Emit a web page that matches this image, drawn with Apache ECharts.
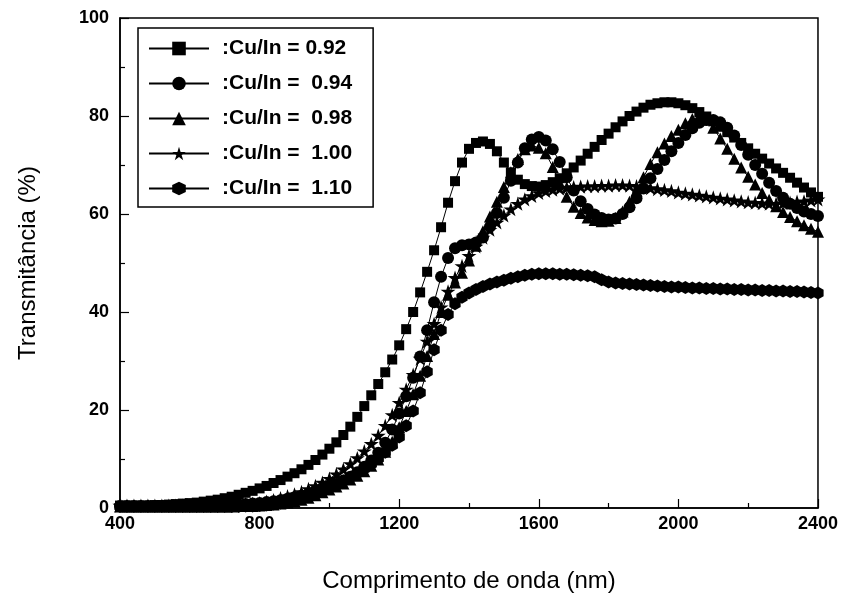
<!DOCTYPE html>
<html>
<head>
<meta charset="utf-8">
<script src="https://cdn.jsdelivr.net/npm/echarts@6/dist/echarts.min.js"></script>
<style>html,body{margin:0;padding:0;background:#fff;}#c{width:841px;height:601px;}</style>
</head>
<body>
<div id="c"></div>
<script>
var wavelengths = [400,420,440,460,480,500,520,540,560,580,600,620,640,660,680,700,720,740,760,780,800,820,840,860,880,900,920,940,960,980,1000,1020,1040,1060,1080,1100,1120,1140,1160,1180,1200,1220,1240,1260,1280,1300,1320,1340,1360,1380,1400,1420,1440,1460,1480,1500,1520,1540,1560,1580,1600,1620,1640,1660,1680,1700,1720,1740,1760,1780,1800,1820,1840,1860,1880,1900,1920,1940,1960,1980,2000,2020,2040,2060,2080,2100,2120,2140,2160,2180,2200,2220,2240,2260,2280,2300,2320,2340,2360,2380,2400];

var cu092 = [0.5,0.5,0.5,0.5,0.5,0.6,0.6,0.7,0.8,0.9,1.0,
 1.1,1.3,1.5,1.7,2.0,2.3,2.7,3.1,3.5,4.0,
 4.5,5.1,5.7,6.4,7.1,7.9,8.8,9.8,10.9,12.1,
 13.4,14.9,16.6,18.6,20.8,23.0,25.3,27.7,30.3,33.2,
 36.5,40.0,44.0,48.2,52.6,57.3,62.3,66.7,70.5,73.3,
 74.5,74.8,74.3,72.8,70.5,68.5,67.0,66.1,65.7,65.6,
 65.9,66.5,67.3,68.3,69.5,70.9,72.3,73.7,75.1,76.4,
 77.7,78.9,80.0,80.9,81.7,82.3,82.6,82.8,82.8,82.6,
 82.2,81.6,80.8,79.9,78.9,77.8,76.7,75.6,74.5,73.4,
 72.3,71.3,70.3,69.3,68.4,67.4,66.4,65.4,64.4,63.5];

var cu094 = [0.4,0.4,0.4,0.4,0.4,0.4,0.4,0.4,0.4,0.4,0.4,
 0.4,0.4,0.5,0.5,0.5,0.6,0.7,0.8,0.9,1.0,
 1.2,1.4,1.6,1.9,2.2,2.5,2.9,3.3,3.8,4.3,
 4.9,5.6,6.4,7.3,8.4,9.7,11.3,13.3,16.0,19.3,
 22.8,26.6,30.9,36.3,42.0,47.2,51.0,53.0,53.6,53.8,
 54.2,55.2,57.4,60.2,63.3,66.8,70.5,73.4,75.2,75.7,
 75.0,73.2,70.6,67.5,64.8,62.6,61.0,59.9,59.2,58.9,
 59.1,60.0,61.4,63.2,65.2,67.3,69.2,71.0,72.8,74.5,
 76.1,77.5,78.6,79.2,79.2,78.7,77.6,76.0,74.1,72.1,
 70.0,68.2,66.4,64.7,63.3,62.1,61.2,60.5,60.0,59.6];

var cu098 = [0.3,0.3,0.3,0.3,0.3,0.3,0.3,0.3,0.3,0.3,0.3,
 0.3,0.3,0.3,0.3,0.3,0.3,0.4,0.4,0.4,0.5,
 0.6,0.7,0.9,1.1,1.4,1.7,2.1,2.6,3.2,3.8,
 4.4,5.0,5.8,6.6,7.5,8.6,9.9,11.5,13.5,16.5,
 19.8,23.2,27.0,31.0,35.5,40.0,43.5,46.0,48.0,50.5,
 53.5,56.5,59.5,62.5,65.5,68.5,71.2,73.2,74.0,73.5,
 72.4,69.6,66.3,63.5,61.5,60.2,59.3,58.8,58.5,58.6,
 59.2,60.5,62.5,64.8,67.5,70.2,72.6,74.4,75.9,77.2,
 78.5,79.4,79.8,79.3,77.6,75.4,73.3,71.3,69.5,67.6,
 66.0,64.3,62.9,61.6,60.4,59.4,58.5,57.7,57.0,56.4];

var cu100 = [0.5,0.5,0.5,0.5,0.5,0.5,0.5,0.5,0.5,0.5,0.5,
 0.5,0.5,0.5,0.6,0.6,0.6,0.7,0.8,0.9,1.0,
 1.3,1.6,2.0,2.4,2.8,3.3,3.9,4.5,5.2,6.0,
 6.9,7.9,9.0,10.2,11.6,13.1,14.8,16.8,19.0,21.5,
 24.2,27.2,30.5,34.0,37.6,41.0,44.2,47.0,49.4,51.5,
 53.4,55.2,56.8,58.3,59.7,61.0,62.1,63.0,63.7,64.3,
 64.7,65.0,65.2,65.4,65.5,65.6,65.7,65.7,65.8,65.8,
 65.9,65.9,65.8,65.7,65.5,65.3,65.1,64.9,64.7,64.4,
 64.2,64.0,63.8,63.6,63.4,63.2,63.0,62.8,62.6,62.4,
 62.3,62.2,62.1,62.1,62.2,62.3,62.5,62.6,62.8,63.0];

var cu110 = [0.3,0.3,0.3,0.3,0.3,0.3,0.3,0.3,0.3,0.3,0.3,
 0.3,0.3,0.3,0.3,0.3,0.3,0.3,0.4,0.4,0.5,
 0.6,0.8,1.0,1.3,1.6,2.0,2.4,2.9,3.5,4.2,
 4.8,5.5,6.3,7.1,8.0,9.0,10.1,11.4,12.8,14.5,
 16.8,19.8,23.5,27.8,32.3,36.3,39.5,41.7,43.0,43.9,
 44.6,45.2,45.7,46.1,46.5,46.9,47.2,47.5,47.7,47.8,
 47.8,47.8,47.7,47.7,47.6,47.5,47.4,47.2,46.6,46.1,
 45.9,45.8,45.7,45.6,45.5,45.4,45.3,45.2,45.1,45.1,
 45.0,44.9,44.9,44.8,44.8,44.7,44.7,44.6,44.6,44.5,
 44.5,44.4,44.4,44.3,44.3,44.2,44.2,44.1,44.0,43.9];

var seriesNames = [':Cu/In = 0.92', ':Cu/In =  0.94', ':Cu/In =  0.98', ':Cu/In =  1.00', ':Cu/In =  1.10'];

var STAR = 'path://M50,0 L61.2,34.5 L97.6,34.5 L68.2,55.9 L79.4,90.5 L50,69.1 L20.6,90.5 L31.8,55.9 L2.4,34.5 L38.8,34.5 Z';
var HEX = 'path://M50,0 L93.3,25 L93.3,75 L50,100 L6.7,75 L6.7,25 Z';
var symbols = ['rect', 'circle', 'triangle', STAR, HEX];
var sizes = [10, 12, 12, 15, 13];
var dataSets = [cu092, cu094, cu098, cu100, cu110];

function pairs(arr) {
  return wavelengths.map(function (w, i) { return [w, arr[i]]; });
}

var series = dataSets.map(function (arr, k) {
  return {
    name: seriesNames[k],
    type: 'line',
    data: pairs(arr),
    symbol: symbols[k],
    symbolSize: sizes[k],
    symbolKeepAspect: true,
    showAllSymbol: true,
    lineStyle: { color: '#000', width: 1 },
    itemStyle: { color: '#000', borderWidth: 0 },
    emphasis: { disabled: true },
    animation: false,
    z: 2 + k
  };
});

var FONT = 'Liberation Sans, Arial, sans-serif';
var chart = echarts.init(document.getElementById('c'), null, { renderer: 'canvas' });
chart.setOption({
  backgroundColor: '#fff',
  animation: false,
  grid: { left: 120, right: 23, top: 18, bottom: 93, show: true, borderColor: '#000', borderWidth: 1.5, backgroundColor: 'transparent' },
  legend: {
    orient: 'vertical',
    left: 138,
    top: 28,
    itemWidth: 60,
    itemHeight: 17,
    itemGap: 14,
    padding: [10, 21, 8, 10],
    borderColor: '#000',
    borderWidth: 1.5,
    backgroundColor: '#fff',
    selectedMode: false,
    data: seriesNames,
    textStyle: { fontFamily: FONT, fontWeight: 'bold', fontSize: 21, color: '#000', padding: [0, 0, 0, 8] }
  },
  xAxis: {
    type: 'value',
    min: 400, max: 2400, interval: 400,
    name: 'Comprimento de onda (nm)',
    nameLocation: 'middle',
    nameGap: 61,
    nameTextStyle: { fontFamily: FONT, fontSize: 24, color: '#000' },
    axisLine: { lineStyle: { color: '#000', width: 1.5 } },
    axisTick: { inside: true, length: 9, lineStyle: { color: '#000', width: 1.2 } },
    minorTick: { show: true, splitNumber: 2, length: 5, lineStyle: { color: '#000', width: 1.2 } },
    splitLine: { show: false },
    axisLabel: { margin: 7, fontFamily: FONT, fontWeight: 'bold', fontSize: 18, color: '#000', formatter: function (v) { return String(v); } }
  },
  yAxis: {
    type: 'value',
    min: 0, max: 100, interval: 20,
    name: 'Transmitância (%)',
    nameLocation: 'middle',
    nameGap: 80,
    nameRotate: 90,
    nameTextStyle: { fontFamily: FONT, fontSize: 24, color: '#000' },
    axisLine: { lineStyle: { color: '#000', width: 1.5 } },
    axisTick: { inside: true, length: 9, lineStyle: { color: '#000', width: 1.2 } },
    minorTick: { show: true, splitNumber: 2, length: 5, lineStyle: { color: '#000', width: 1.2 } },
    splitLine: { show: false },
    axisLabel: { margin: 11, fontFamily: FONT, fontWeight: 'bold', fontSize: 18, color: '#000', formatter: function (v) { return String(v); } }
  },
  series: series
});
</script>
</body>
</html>
